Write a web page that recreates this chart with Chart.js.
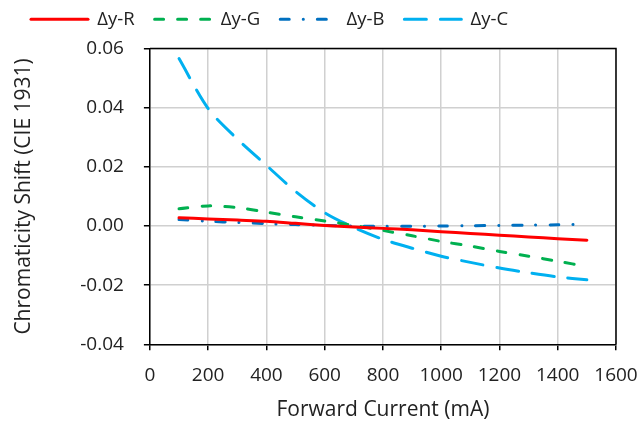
<!DOCTYPE html>
<html>
<head>
<meta charset="utf-8">
<script src="https://cdn.jsdelivr.net/npm/chart.js@4.4.1/dist/chart.umd.min.js"></script>
<style>
  html, body { margin: 0; padding: 0; background: #fff; }
  #wrap { width: 644px; height: 426px; }
</style>
</head>
<body>
<div id="wrap"><canvas id="chart" width="644" height="426"></canvas></div>
<script>
// forward current (mA)
const current = [100, 200, 300, 400, 500, 600, 700, 800, 900, 1000, 1100, 1200, 1300, 1400, 1500]
const dyR = [0.0028, 0.0024, 0.0020, 0.0016, 0.0009, 0.0002, -0.0003, -0.0008, -0.0013, -0.0019, -0.0025, -0.0031, -0.0037, -0.0043, -0.0048]
const dyG = [0.0058, 0.0068, 0.0062, 0.0047, 0.0031, 0.0017, 0.0002, -0.0015, -0.0033, -0.0052, -0.0068, -0.0086, -0.0102, -0.0119, -0.0137]
const dyB = [0.0022, 0.0016, 0.0012, 0.0008, 0.0005, 0.0002, 0.0, -0.0001, -0.0001, 0.0, 0.0001, 0.0002, 0.0003, 0.0004, 0.0006]
const dyC = [0.0566, 0.0397, 0.0294, 0.0205, 0.0117, 0.0045, -0.0005, -0.0045, -0.0075, -0.0102, -0.0123, -0.0142, -0.0158, -0.0172, -0.0182]
const seriesNames = ['Δy-R', 'Δy-G', 'Δy-B', 'Δy-C']

const family = "'Open Sans', 'Noto Sans', sans-serif"
const tickFont = { family: family, size: 19 }
const titleFont = { family: family, size: 21 }
const xTitleFont = { family: family, size: 21, lineHeight: 0.85 }
const legendFont = { family: family, size: 18.5 }
const textColor = '#222'

function pts(ys) {
  return current.map((x, i) => ({ x: x, y: ys[i] }))
}

function line(label, ys, color, dash) {
  return {
    label: label,
    data: pts(ys),
    borderColor: color,
    backgroundColor: color,
    borderWidth: 3,
    borderDash: dash,
    borderCapStyle: 'round',
    pointRadius: 0,
    tension: 0.3,
    fill: false
  }
}

// black frame on top/right of the plot area
const frame = {
  id: 'frame',
  afterDatasetsDraw(chart) {
    const a = chart.chartArea
    const c = chart.ctx
    c.save()
    c.strokeStyle = '#000'
    c.lineWidth = 1.5
    c.beginPath()
    c.moveTo(a.left, a.top)
    c.lineTo(a.right, a.top)
    c.lineTo(a.right, a.bottom)
    c.stroke()
    c.restore()
  }
}

// legend sits closer to the top edge than its padding allows
const legendUp = {
  id: 'legendUp',
  afterLayout(chart) {
    chart.legend.top -= 10
    chart.legend.bottom -= 10
  }
}

let ctx = document.getElementById('chart').getContext('2d')
let chart = new Chart(ctx, {
  type: 'line',
  data: {
    datasets: [
      line(seriesNames[0], dyR, '#ff0000', []),
      line(seriesNames[1], dyG, '#00b050', [9, 14]),
      line(seriesNames[2], dyB, '#0070c0', [9, 14, 0.1, 14]),
      line(seriesNames[3], dyC, '#00b0f0', [22, 14])
    ]
  },
  options: {
    responsive: false,
    animation: false,
    layout: { padding: { left: 11, right: 13, top: 0, bottom: 4 } },
    plugins: {
      legend: {
        position: 'top',
        align: 'start',
        labels: {
          font: legendFont,
          color: textColor,
          usePointStyle: true,
          pointStyle: 'line',
          pointStyleWidth: 57,
          padding: 20,
          generateLabels(chart) {
            return Chart.defaults.plugins.legend.labels.generateLabels(chart).map(item => {
              const ds = chart.data.datasets[item.datasetIndex]
              item.lineDash = ds.borderDash
              item.lineCap = 'round'
              item.strokeStyle = ds.borderColor
              item.lineWidth = 3
              return item
            })
          }
        }
      },
      tooltip: { enabled: false }
    },
    scales: {
      x: {
        type: 'linear',
        min: 0,
        max: 1600,
        afterFit(scale) {
          scale.paddingRight = 28
        },
        ticks: { stepSize: 200, font: tickFont, color: textColor, maxRotation: 0, padding: 14, callback: v => String(v) },
        grid: { color: '#d0d0d0', lineWidth: 1.5, tickColor: '#000', tickLength: 6 },
        border: { color: '#000', width: 1.5 },
        title: { display: true, text: 'Forward Current (mA)', font: xTitleFont, color: textColor, padding: { top: 0, bottom: 3 } }
      },
      y: {
        min: -0.04,
        max: 0.06,
        ticks: {
          stepSize: 0.02,
          font: tickFont,
          color: textColor,
          padding: 20,
          callback: v => v.toFixed(2)
        },
        grid: { color: '#d0d0d0', lineWidth: 1.5, tickColor: '#000', tickLength: 6 },
        border: { color: '#000', width: 1.5 },
        title: { display: true, text: 'Chromaticity Shift (CIE 1931)', font: titleFont, color: textColor, padding: { top: 0, bottom: 24 } }
      }
    }
  },
  plugins: [frame, legendUp]
})
</script>
</body>
</html>
